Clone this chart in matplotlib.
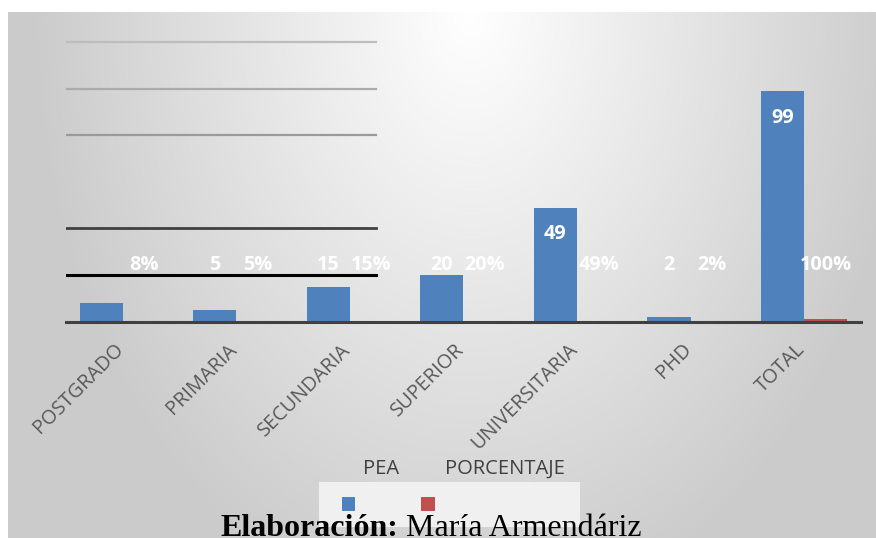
import numpy as np
import matplotlib
matplotlib.use("Agg")
import matplotlib.pyplot as plt
from matplotlib.patches import Rectangle
from matplotlib.transforms import ScaledTranslation

categories = ["POSTGRADO", "PRIMARIA", "SECUNDARIA", "SUPERIOR", "UNIVERSITARIA", "PHD", "TOTAL"]
pea = [8, 5, 15, 20, 49, 2, 99]
porcentaje = [0.08, 0.05, 0.15, 0.20, 0.49, 0.02, 1.00]
pea_labels = ["", "5", "15", "20", "49", "2", "99"]
pct_labels = ["8%", "5%", "15%", "20%", "49%", "2%", "100%"]
series_names = ["PEA", "PORCENTAJE"]
grid_levels = [20, 40, 80, 100, 120]
grid_colors = ["#000000", "#404040", "#9a9a9a", "#ababab", "#bdbdbd"]
grid_widths = [2.2, 2.0, 1.6, 1.6, 1.6]

BLUE = "#4F81BD"
RED = "#C0504D"
W, H = 876, 538

fig = plt.figure(figsize=(W / 100, H / 100), dpi=100)
fig.patch.set_facecolor("white")

# gradient background
bg = fig.add_axes([8 / W, 0, (W - 8) / W, (H - 12) / H], zorder=-10)
yy, xx = np.mgrid[12:H, 8:W]
t = np.sqrt(((xx - 470) / 440.0) ** 2 + ((yy - 12) / 620.0) ** 2)
t = np.clip(t, 0, 1)
c = (255 - 52 * t) / 255.0
bg.imshow(np.dstack([c, c, c]), aspect="auto", extent=[0, 1, 0, 1], origin="upper")
bg.set_axis_off()

# main axes
ax_bottom = (H - 321.7) / H
ymax = 130
px_per_unit = 2.33
ax_height = ymax * px_per_unit / H
ax = fig.add_axes([66 / W, ax_bottom, 795 / W, ax_height])
ax.patch.set_alpha(0)
ax.set_xlim(-0.5, len(categories) - 0.5)
ax.set_ylim(0, ymax)

for lvl, col, lw in zip(grid_levels, grid_colors, grid_widths):
    ax.axhline(lvl, xmin=0, xmax=0.39, color=col, lw=lw, zorder=1)

x = np.arange(len(categories))
bw = 0.38
ax.bar(x - bw / 2, pea, width=bw, color=BLUE, zorder=3)
ax.bar(x + bw / 2, porcentaje, width=bw, color=RED, zorder=3)

lab_font = dict(family=["Open Sans", "DejaVu Sans"], fontsize=14.3, fontweight="bold",
                color="white", ha="center", va="center", zorder=5)
for i, (v, lab) in enumerate(zip(pea, pea_labels)):
    if not lab:
        continue
    ypos = v - 11.5 if v > 30 else 24.5
    ax.text(x[i] - bw / 2, ypos, lab, **lab_font)
for i, lab in enumerate(pct_labels):
    ax.text(x[i] + bw / 2, 24.5, lab, **lab_font)

for s in ["top", "left", "right"]:
    ax.spines[s].set_visible(False)
ax.spines["bottom"].set_linewidth(2.2)
ax.spines["bottom"].set_color("#404040")
ax.spines["bottom"].set_zorder(4)
ax.set_yticks([])
ax.set_xticks(x)
ax.set_xticklabels(categories, rotation=45, ha="right", va="center",
                   rotation_mode="anchor", family=["Open Sans", "DejaVu Sans"],
                   fontsize=14.3, color="#595959")
ax.tick_params(axis="x", length=0, pad=18)
for lbl in ax.get_xticklabels():
    lbl.set_transform(lbl.get_transform() + ScaledTranslation(-0.02, 0, fig.dpi_scale_trans))

# legend (manual)
def fx(px):
    return px / W

def fy(py):
    return (H - py) / H

fig.patches.append(Rectangle((fx(319), fy(527)), fx(580) - fx(319), fy(482) - fy(527),
                             transform=fig.transFigure, facecolor="#f0f0f0",
                             edgecolor="none", zorder=2))
fig.patches.append(Rectangle((fx(342), fy(511)), fx(355) - fx(342), fy(497) - fy(511),
                             transform=fig.transFigure, facecolor=BLUE,
                             edgecolor="none", zorder=3))
fig.patches.append(Rectangle((fx(421), fy(511)), fx(435) - fx(421), fy(497) - fy(511),
                             transform=fig.transFigure, facecolor=RED,
                             edgecolor="none", zorder=3))
fig.text(fx(381.5), fy(469), series_names[0], ha="center", va="center",
         family=["Open Sans", "DejaVu Sans"], fontsize=14.5, color="#404040")
fig.text(fx(505), fy(469), series_names[1], ha="center", va="center",
         family=["Open Sans", "DejaVu Sans"], fontsize=14.5, color="#404040")

# footer
fig.text(fx(220), fy(536), "Elaboración:", ha="left", va="baseline",
         family=["Liberation Serif", "DejaVu Serif"], fontsize=23, fontweight="bold",
         color="black", zorder=6)
fig.text(fx(642), fy(536), "María Armendáriz", ha="right", va="baseline",
         family=["Liberation Serif", "DejaVu Serif"], fontsize=23,
         color="black", zorder=6)

fig.savefig("out.png", dpi=100)
